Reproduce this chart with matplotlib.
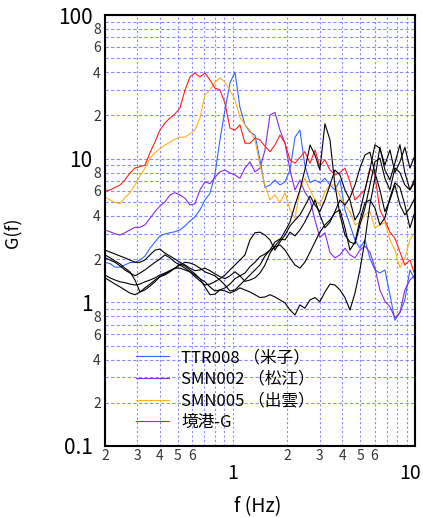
import matplotlib
matplotlib.use("Agg")
import matplotlib.pyplot as plt
from matplotlib.ticker import FixedLocator, FixedFormatter
from matplotlib.transforms import ScaledTranslation

plt.rcParams["font.family"] = ["Noto Sans CJK JP", "DejaVu Sans"]

# shared frequency axis (Hz)
FREQ = [0.200, 0.213, 0.227, 0.242, 0.257, 0.274, 0.292, 0.311, 0.331, 0.353,
        0.376, 0.400, 0.426, 0.454, 0.484, 0.515, 0.549, 0.584, 0.622, 0.663,
        0.706, 0.752, 0.800, 0.853, 0.909, 0.968, 1.031, 1.098, 1.170, 1.246,
        1.327, 1.414, 1.506, 1.604, 1.708, 1.820, 1.940, 2.064, 2.200, 2.340,
        2.490, 2.660, 2.830, 3.010, 3.210, 3.420, 3.640, 3.880, 4.130, 4.400,
        4.690, 4.990, 5.320, 5.660, 6.030, 6.420, 6.840, 7.290, 7.760, 8.270,
        8.800, 9.380, 10.00]

# amplification G(f) per site
G_TTR008 = [1.9, 1.86, 1.76, 1.76, 1.82, 1.89, 1.9, 1.97, 2.1, 2.38,
            2.63, 2.9, 2.99, 3.05, 3.1, 3.19, 3.4, 3.68, 3.93, 4.4,
            5.16, 5.73, 7.7, 13.5, 21.8, 33.6, 40.0, 22.8, 17.2, 15.3,
            14.6, 9.8, 6.3, 6.56, 7.1, 6.56, 6.9, 8.34, 14.1, 15.8,
            9.0, 6.8, 7.1, 6.8, 7.3, 6.56, 6.06, 7.1, 4.4, 3.46,
            2.72, 2.38, 2.72, 2.03, 1.68, 1.6, 1.68, 1.13, 0.75, 0.85,
            1.04, 1.68, 1.43]
G_SMN002 = [3.19, 3.1, 3.0, 2.94, 3.05, 3.19, 3.33, 3.33, 3.46, 3.85,
            4.28, 4.68, 5.0, 5.59, 5.8, 5.59, 5.3, 4.76, 4.85, 6.06,
            6.9, 6.7, 7.4, 8.1, 8.34, 7.95, 7.7, 7.3, 8.6, 9.5,
            8.1, 8.6, 11.5, 20.1, 21.0, 15.8, 12.8, 8.34, 6.06, 7.1,
            5.85, 5.16, 3.74, 2.83, 3.05, 2.22, 2.04, 2.14, 2.38, 2.14,
            2.04, 2.31, 2.46, 2.24, 1.74, 1.22, 1.02, 0.93, 0.78, 0.85,
            1.22, 1.43, 1.55]
G_SMN005 = [5.4, 5.16, 4.95, 4.87, 5.35, 5.8, 6.56, 7.6, 8.6, 10.1,
            11.0, 11.7, 12.45, 13.0, 13.7, 14.1, 14.1, 14.9, 15.8, 19.2,
            27.8, 30.1, 34.0, 36.5, 34.0, 30.1, 25.6, 19.4, 17.2, 15.8,
            13.5, 9.0, 6.56, 5.16, 5.6, 4.95, 5.8, 4.4, 3.85, 6.06,
            7.3, 6.06, 5.16, 4.76, 5.85, 6.56, 6.56, 5.5, 4.76, 4.28,
            3.46, 3.6, 4.06, 4.28, 3.3, 3.46, 3.6, 2.72, 2.31, 1.74,
            2.03, 2.72, 3.08]
G_SAKAI = [5.95, 6.06, 6.3, 6.56, 7.1, 7.95, 8.6, 8.8, 9.0, 11.0,
           13.1, 15.8, 17.7, 19.2, 20.5, 22.5, 30.1, 37.0, 39.5, 37.0,
           39.5, 35.3, 31.0, 30.1, 24.4, 16.3, 15.8, 17.2, 12.8, 12.8,
           13.9, 13.5, 12.2, 11.2, 12.45, 14.6, 12.8, 9.8, 9.3, 10.2,
           11.2, 9.3, 11.5, 8.9, 9.8, 8.34, 7.7, 8.0, 8.6, 6.9,
           5.16, 5.6, 6.06, 8.6, 7.7, 4.4, 3.74, 3.08, 2.8, 2.24,
           1.82, 1.97, 1.55]

# other sites (black)
G_K1 = [2.31, 2.24, 2.17, 2.1, 2.04, 1.97, 1.9, 1.9, 1.97, 2.14,
        2.31, 2.35, 2.2, 2.1, 2.0, 1.9, 1.82, 1.73, 1.66, 1.68,
        1.73, 1.66, 1.58, 1.51, 1.46, 1.53, 1.63, 1.53, 1.4, 1.43,
        1.48, 1.6, 1.82, 2.2, 2.47, 2.72, 3.13, 3.62, 4.76, 6.06,
        8.34, 12.45, 10.6, 8.34, 17.5, 13.5, 6.56, 4.06, 2.94, 2.63,
        2.55, 3.46, 4.54, 6.56, 9.5, 10.1, 7.3, 6.06, 8.6, 8.0,
        6.56, 6.06, 6.9]
G_K2 = [2.14, 2.04, 1.94, 1.85, 1.73, 1.63, 1.43, 1.18, 1.22, 1.3,
        1.39, 1.51, 1.58, 1.66, 1.73, 1.85, 1.79, 1.68, 1.58, 1.46,
        1.28, 1.13, 1.14, 1.22, 1.2, 1.16, 1.2, 1.26, 1.22, 1.18,
        1.13, 1.08, 1.09, 1.13, 1.09, 1.04, 0.99, 0.885, 0.817, 0.96,
        0.91, 1.04, 1.08, 1.01, 1.18, 1.34, 1.32, 1.22, 1.08, 0.885,
        1.16, 1.68, 2.72, 4.76, 7.3, 12.0, 8.34, 7.1, 9.3, 12.5,
        8.0, 6.06, 7.3]
G_K3 = [1.55, 1.48, 1.43, 1.39, 1.37, 1.34, 1.32, 1.34, 1.39, 1.43,
        1.48, 1.55, 1.6, 1.66, 1.73, 1.73, 1.68, 1.63, 1.55, 1.46,
        1.39, 1.28, 1.2, 1.22, 1.26, 1.34, 1.46, 1.53, 1.6, 1.77,
        1.9, 2.08, 2.17, 2.31, 2.63, 2.76, 2.72, 3.08, 2.9, 3.19,
        3.62, 4.28, 5.16, 4.06, 3.3, 3.62, 4.28, 5.16, 4.76, 5.35,
        6.56, 8.6, 10.6, 11.1, 8.0, 6.06, 4.28, 5.16, 6.56, 4.76,
        4.06, 4.54, 5.35]
G_K4 = [1.48, 1.41, 1.34, 1.28, 1.22, 1.16, 1.13, 1.18, 1.26, 1.34,
        1.43, 1.51, 1.55, 1.63, 1.73, 1.82, 1.9, 1.88, 1.82, 1.73,
        1.63, 1.58, 1.53, 1.43, 1.32, 1.2, 1.22, 1.32, 1.43, 1.55,
        1.68, 1.82, 2.1, 2.31, 2.43, 2.51, 2.31, 2.04, 1.82, 1.73,
        1.9, 2.24, 2.63, 3.08, 3.46, 3.74, 4.2, 4.4, 3.3, 2.31,
        2.63, 3.74, 4.95, 5.16, 4.54, 3.46, 3.87, 5.35, 6.8, 6.3,
        4.76, 3.3, 4.28]
G_K5 = [2.04, 1.97, 1.9, 1.79, 1.68, 1.6, 1.53, 1.6, 1.68, 1.79,
        1.9, 2.0, 2.14, 2.04, 1.9, 1.82, 1.73, 1.63, 1.51, 1.41,
        1.32, 1.34, 1.39, 1.46, 1.55, 1.68, 1.82, 1.97, 2.14, 2.72,
        3.05, 3.08, 2.94, 2.72, 2.31, 2.63, 2.94, 3.4, 3.74, 4.06,
        4.68, 5.5, 4.76, 4.28, 5.16, 6.56, 8.34, 7.7, 6.06, 5.16,
        3.74, 4.28, 6.06, 8.34, 12.5, 11.8, 9.04, 11.5, 8.0, 9.5,
        12.0, 8.6, 10.6]

SITES = [
    ("TTR008 （米子）", G_TTR008, "#3366ff"),
    ("SMN002 （松江）", G_SMN002, "#8a2be2"),
    ("SMN005 （出雲）", G_SMN005, "#ffb020"),
    ("境港-G", G_SAKAI, "#ff2020"),
]
OTHERS = [G_K1, G_K2, G_K3, G_K4, G_K5]

X_MINOR = [0.2, 0.3, 0.4, 0.5, 0.6, 0.7, 0.8, 0.9, 2, 3, 4, 5, 6, 7, 8, 9]
X_MINOR_LBL = ["2", "3", "4", "5", "6", "", "", "", "2", "3", "4", "5", "6", "", "", ""]
Y_MINOR = [m * d for d in (0.1, 1, 10) for m in range(2, 10)]
Y_MINOR_LBL = ["2", "", "4", "", "6", "", "8", ""] * 3

fig = plt.figure(figsize=(4.23, 5.18), dpi=100)
ax = fig.add_axes([105 / 423, 72 / 518, 310 / 423, 431 / 518])

for label, g, color in SITES:
    ax.plot(FREQ, g, color=color, lw=0.8, label=label)
for g in OTHERS:
    ax.plot(FREQ, g, color="black", lw=0.8)

ax.set_xscale("log")
ax.set_yscale("log")
ax.set_xlim(0.2, 10)
ax.set_ylim(0.1, 100)

ax.xaxis.set_major_locator(FixedLocator([1, 10]))
ax.xaxis.set_major_formatter(FixedFormatter(["1", "10"]))
ax.xaxis.set_minor_locator(FixedLocator(X_MINOR))
ax.xaxis.set_minor_formatter(FixedFormatter(X_MINOR_LBL))
ax.yaxis.set_major_locator(FixedLocator([0.1, 1, 10, 100]))
ax.yaxis.set_major_formatter(FixedFormatter(["0.1", "1", "10", "100"]))
ax.yaxis.set_minor_locator(FixedLocator(Y_MINOR))
ax.yaxis.set_minor_formatter(FixedFormatter(Y_MINOR_LBL))

ax.tick_params(which="both", length=0)
ax.tick_params(axis="y", which="major", pad=9, labelsize=15)
ax.tick_params(axis="y", which="minor", pad=3, labelsize=10, labelcolor="#333333")
ax.tick_params(axis="x", which="major", pad=12, labelsize=14)
ax.tick_params(axis="x", which="minor", pad=2, labelsize=10, labelcolor="#333333")

# pull the "10" label in a little so it stays inside the figure
lbl10 = ax.xaxis.get_majorticklabels()[1]
lbl10.set_transform(lbl10.get_transform() + ScaledTranslation(-5 / 100, 0, fig.dpi_scale_trans))

grid_kw = dict(color="#7070ff", lw=0.8, alpha=0.8)
ax.yaxis.grid(True, which="both", ls=(0, (3, 2)), **grid_kw)
ax.xaxis.grid(True, which="both", ls=(0, (2, 2)), **grid_kw)
ax.set_axisbelow(True)
for sp in ax.spines.values():
    sp.set_linewidth(1.5)

ax.legend(loc="upper left", bbox_to_anchor=(0.10, 0.225), frameon=False,
          fontsize=12, handlelength=2.0, handletextpad=0.7, labelspacing=0.28,
          borderaxespad=0, borderpad=0)

fig.text(13 / 423, 1 - 233 / 518, "G(f)", rotation=90, ha="center", va="center", fontsize=13)
fig.text(258 / 423, 1 - 507 / 518, "f (Hz)", ha="center", va="center", fontsize=14)

fig.savefig("out.png", dpi=100)
